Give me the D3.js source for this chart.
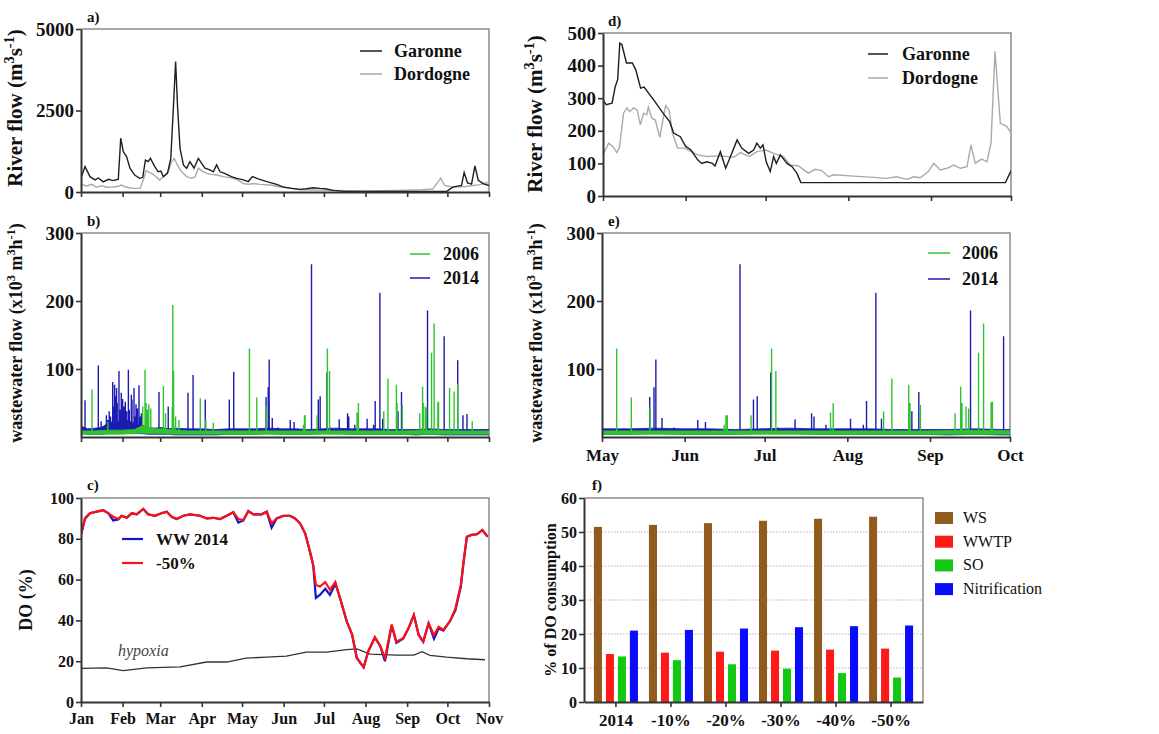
<!DOCTYPE html>
<html>
<head>
<meta charset="utf-8">
<script src="https://cdn.jsdelivr.net/npm/d3@7"></script>
<style>
  body { margin: 0; background: #fff; }
  svg text { font-family: "Liberation Serif", "Times New Roman", serif; }
</style>
</head>
<body>
<svg id="chart" width="1159" height="734"></svg>
<script>
// ---- data (days counted from Jan 1; panel d counted from May 1) ----

// a) river flow 2014, m3/s
const garonneA = [[0,430],[3,780],[6.7,470],[10.4,370],[12.9,430],[16.6,310],[20.4,390],[24,350],[27.8,390],[29.6,1650],[31.5,1240],[34,1080],[36.5,730],[40,520],[43.7,420],[46,450],[48,980],[50,930],[51.7,1030],[55,780],[57.5,620],[59.5,640],[61.4,470],[64.4,570],[66.9,1030],[68.8,2570],[70.5,4000],[72,2570],[73.8,1340],[76.3,830],[78.7,730],[81.2,930],[84.2,730],[87.4,1030],[89.9,880],[92.4,730],[96,680],[98.6,620],[101,830],[103.6,620],[107,570],[112,470],[116,420],[121,370],[124.7,320],[127.7,470],[132,400],[138.4,320],[145.8,235],[150.8,150],[157,110],[163,80],[168,100],[173,130],[178,110],[182,100],[188,50],[196,20],[212,20],[236,15],[262,15],[272.5,20],[277,150],[283.5,200],[285.5,600],[288,280],[291,240],[293.5,800],[296,360],[300,250],[304,200]];
const dordogneA = [[0,235],[4.2,185],[8,235],[11.7,145],[15.4,195],[19,145],[24,155],[27.8,175],[30,215],[34,145],[39,110],[44,110],[46,320],[48.6,655],[52.4,570],[56,470],[58.6,370],[62.6,520],[65,620],[67.5,930],[69.5,1030],[71.8,830],[75,620],[78.7,470],[82.5,420],[85,470],[87.4,730],[90,650],[93.6,570],[97.4,540],[101,520],[106,470],[111,440],[116,390],[121,260],[124.7,235],[128.5,260],[133.5,235],[141,215],[148,160],[154.5,130],[163,70],[188,50],[212,30],[236,50],[254,70],[262,90],[266,310],[268,430],[271,200],[277,150],[287,170],[297,225],[304,300]];

// b/e) wastewater flow, x10^3 m3/h : band [day, low, high] and spikes [day, peak]
const ww2014Band = [[0,5,16],[5,4,12],[10,4,13],[15,4,14],[20,5,20],[25,6,24],[30,6,22],[35,6,24],[40,5,20],[45,5,18],[50,4,14],[55,4,13],[60,4,14],[65,4,12],[70,3,13],[80,3,12],[90,3,12],[100,3,11],[110,4,12],[120,4,12],[130,4,12],[140,5,13],[150,4,12],[160,4,12],[170,4,11],[180,5,12],[190,5,13],[200,4,12],[210,4,12],[220,4,12],[230,4,11],[240,4,11],[250,3,11],[260,4,12],[270,3,11],[280,3,11],[290,3,11],[304,3,11]];
const ww2014Peaks = [[3,54],[12.9,105],[15,23],[18.9,32],[20,25],[21,38],[22,30],[23.6,81],[24.3,45],[25,77],[25.8,60],[26.5,72],[27,50],[28.3,97],[29,40],[30,65],[31,56],[32,45],[33,52],[34,38],[35.3,99],[36,40],[37.5,62],[38,55],[39.5,72],[40,30],[41,48],[42,42],[43.2,76],[44,30],[45,35],[50,40],[58.1,66],[65,45],[79.7,65],[83.5,91],[92.6,55],[110.5,55],[113.8,96],[137.9,59],[139.5,73],[140.2,114],[142.5,28],[147,14],[155.9,25],[158.8,22],[171.75,254],[176.8,55],[178.2,60],[183.3,95],[186,14],[192.4,26],[198.6,35],[199.5,30],[204,18],[213.2,27],[218,18],[219.2,53],[222.7,212],[224.8,27],[236.2,38],[238.8,66],[258.2,186],[270.6,148],[280.7,113],[284.6,32],[287.6,34]];
const ww2006Band = [[0,4,9],[10,4,9],[20,4,10],[30,4,10],[40,5,11],[45,6,16],[50,5,14],[55,5,12],[60,5,12],[70,4,10],[80,4,9],[90,4,9],[100,4,9],[120,4,9],[140,4,9],[160,4,9],[180,4,9],[200,4,9],[220,4,9],[240,4,9],[260,4,10],[280,4,9],[304,4,9]];
const ww2006Peaks = [[8.2,70],[20,22],[46,45],[47.7,99],[48.5,50],[49.5,40],[50.5,48],[52,42],[61.4,75],[63,35],[68,45],[68.4,194],[69,97],[70.5,30],[73,25],[88.9,57],[93,25],[98.6,21],[125.5,130],[131,58],[138,45],[165.8,18],[166.5,32],[167,32],[175.9,32],[183.6,130],[185.2,97],[205.7,36],[206.7,50],[225.6,38],[228.7,86],[235,77],[235.5,50],[239.4,47],[252.4,35],[254.5,74],[255,50],[256.5,45],[257.5,42],[261.2,124],[263.1,167],[265.9,51],[266.4,52],[274.6,72],[278,67],[280.7,78],[291.5,23]];

// c) dissolved oxygen, %
const doWW2014 = [[0,82],[3,90],[6.7,92.5],[11.7,93.3],[16.6,94],[20.4,92.5],[24,89],[27.8,89.5],[30.3,91.3],[34,90.3],[37.8,92.5],[41.5,92],[46.4,94.6],[50,92],[55,91.3],[60,92.5],[63.8,93.3],[67.6,90.8],[71.3,89.7],[76.3,91.3],[81.2,92],[88.7,91.3],[93.6,90],[98.6,90.3],[103.6,89.7],[108.5,91.3],[113.5,93],[117.2,88],[121,89],[124.7,93.6],[128.5,92],[134.6,92],[138.4,93.3],[142,85.5],[145.8,90],[150.8,91.3],[155.7,91.3],[159.5,90],[163.2,87.6],[167,82.7],[170.6,73.7],[173,67.2],[175,51],[178,52.5],[182,55.5],[185.5,52.5],[189.5,58],[193,51],[198,39.5],[202,33],[205.5,21.6],[210.6,17],[214,24.8],[219,31.7],[223,27.3],[226.5,20],[231.5,37.5],[235,29],[240,31],[244,36.1],[248,42.6],[251.6,32.8],[255,29.6],[259,38.6],[263,31],[266.5,36],[270,35],[275,39.7],[279,45],[283,56.5],[285,68],[287.5,81],[291,81.9],[295,82.2],[299,84.3],[303,81]];
const doMinus50 = [[0,82],[3,90],[6.7,92.5],[11.7,93.3],[16.6,94],[20.4,92.5],[24,90.8],[27.8,89.7],[30.3,91.3],[34,90.3],[37.8,92.5],[41.5,92],[46.4,94.6],[50,92],[55,91.3],[60,92.5],[63.8,93.3],[67.6,90.8],[71.3,89.7],[76.3,91.3],[81.2,92],[88.7,91.3],[93.6,90],[98.6,90.3],[103.6,89.7],[108.5,91.3],[113.5,93],[117.2,89.7],[121,89.2],[124.7,93.6],[128.5,92],[134.6,92],[138.4,93.3],[142,87.6],[145.8,90],[150.8,91.3],[155.7,91.3],[159.5,90],[163.2,87.6],[167,82.7],[170.6,73.7],[173,67.2],[175,57.4],[178,56.6],[182,58.8],[185.5,55],[189.5,58.8],[193,51],[198,39.5],[202,33],[205.5,21.6],[210.6,17],[214,24.8],[219,31.7],[223,27.3],[226.5,21.6],[231.5,38],[235,29.6],[240,31.2],[244,36.1],[248,42.6],[251.6,32.8],[255,29.6],[259,38.6],[263,32.8],[266.5,36.9],[270,35.3],[275,39.7],[279,45.9],[283,57.4],[285,68.8],[287.5,81],[291,81.9],[295,82.2],[299,84.3],[303,81]];
const hypoxia = [[0,16.5],[19,16.7],[31.5,15.4],[49,16.7],[73.8,17.2],[93.6,19.6],[108.5,19.6],[123,21.5],[138.4,22],[153,22.5],[168,24.4],[183,24.4],[198,25.7],[205.5,26],[215.4,23.5],[235,23],[248,23],[254,24.7],[260,22.9],[272.5,22],[287.5,21.2],[301,20.7]];

// d) river flow May-Oct, m3/s (days from May 1)
const garonneD = [[0,295],[1.2,280],[3.4,285],[4.6,336],[5.5,357],[6.3,469],[7.1,464],[8.8,408],[11,408],[12.3,387],[14.1,331],[15.4,334],[19,295],[23,249],[25,228],[26.5,193],[29,182],[31,152],[33,141],[35.5,111],[37,100],[39,105],[41,100],[42,92],[44,136],[46,85],[47.8,121],[50.3,172],[52,147],[54.6,131],[56.5,141],[57.7,162],[59,147],[60,157],[61.2,105],[62.7,75],[64,121],[65,100],[66.5,126],[69,100],[70.9,90],[72.7,70],[74.2,41],[150.9,41],[153,77]];
const dordogneD = [[0,126],[2.1,162],[3.7,152],[5.2,133],[6.2,150],[7.7,254],[9,270],[10,259],[11.5,270],[12.8,264],[14,218],[15.2,254],[16.4,249],[17,272],[18.3,239],[19.6,233],[21.3,180],[22.6,239],[23.5,277],[24.8,264],[26,193],[28,147],[30.5,147],[33,136],[35.5,126],[39,121],[44,123],[49,119],[51.5,133],[55,121],[57.7,136],[61,141],[64,131],[67.7,121],[70.2,95],[73.3,92],[77,70],[79.6,82],[82,78],[84.6,59],[86.5,65],[94,61],[101.5,57],[106.5,54],[110,59],[114,51],[116.5,59],[119,56],[122,75],[124,100],[126.5,80],[129,85],[131.5,95],[134,85],[136.5,90],[138,157],[139.6,100],[142,113],[144,105],[145.5,162],[147,444],[149,223],[151.5,213],[153,193]];

// f) share of DO consumption, %
const scenarios = ['2014', '-10%', '-20%', '-30%', '-40%', '-50%'];
const processes = ['WS', 'WWTP', 'SO', 'Nitrification'];
const wsShare = [51.5, 52.1, 52.6, 53.3, 53.9, 54.5];
const wwtpShare = [14.1, 14.5, 14.8, 15.1, 15.4, 15.7];
const soShare = [13.4, 12.3, 11.1, 9.8, 8.5, 7.2];
const nitriShare = [21.0, 21.2, 21.6, 22.0, 22.3, 22.5];

// ---- helpers ----
const svg = d3.select('#chart');
const DAY = 864e5;
const jan1 = new Date(2014, 0, 1);
const may1 = new Date(2014, 4, 1);
const fromJan = d => new Date(jan1.getTime() + d * DAY);
const fromMay = d => new Date(may1.getTime() + d * DAY);
const AXIS = '#333';
const intFmt = d3.format('d');

function panel(box, id) {
  const g = svg.append('g').attr('transform', `translate(${box.left},${box.top})`);
  const w = box.right - box.left, h = box.bottom - box.top;
  svg.append('clipPath').attr('id', id).append('rect')
    .attr('x', box.left).attr('y', box.top).attr('width', w).attr('height', h);
  // grey frame top + right
  g.append('path').attr('d', `M0,0H${w}V${h}`)
    .attr('fill', 'none').attr('stroke', '#8c8c8c').attr('stroke-width', 1.5);
  return { g, w, h, clip: `url(#${id})` };
}

function styleAxis(sel, fs) {
  sel.attr('font-family', null).attr('font-size', null);
  sel.select('.domain').attr('stroke', AXIS).attr('stroke-width', 2);
  sel.selectAll('.tick line').attr('stroke', AXIS).attr('stroke-width', 1.6);
  sel.selectAll('.tick text')
    .attr('font-size', fs).attr('font-weight', 'bold').attr('fill', '#111')
    .style('font-family', '"Liberation Serif", serif');
}

function yTitle(x, y, parts, fs) {
  const t = svg.append('text')
    .attr('transform', `translate(${x},${y}) rotate(-90)`)
    .attr('text-anchor', 'middle').attr('font-size', fs).attr('font-weight', 'bold').attr('fill', '#111');
  parts.forEach(p => {
    const s = t.append('tspan').text(p[0]);
    if (p[1] === 'sup') s.attr('font-size', fs * 0.68).attr('dy', -fs * 0.4);
    if (p[1] === 'back') s.attr('dy', fs * 0.4);
  });
}

function tag(x, y, label) {
  svg.append('text').attr('x', x).attr('y', y)
    .attr('font-size', 15).attr('font-weight', 'bold').attr('fill', '#111').text(label);
}

function lineLegend(x, y, items, fs, gap) {
  items.forEach((it, i) => {
    svg.append('line')
      .attr('x1', x).attr('x2', x + it.len).attr('y1', y + i * gap).attr('y2', y + i * gap)
      .attr('stroke', it.color).attr('stroke-width', it.width);
    svg.append('text')
      .attr('x', x + it.len + it.pad).attr('y', y + i * gap + fs * 0.35)
      .attr('font-size', fs).attr('font-weight', 'bold').attr('fill', '#111').text(it.name);
  });
}

// ---- panel a ----
const pa = panel({ left: 81, right: 489, top: 29, bottom: 192 }, 'clipA');
const xA = d3.scaleTime().domain([jan1, new Date(2014, 10, 1)]).range([81, 489]);
const yA = d3.scaleLinear().domain([0, 5000]).range([192, 29]);
const lineA = d3.line().x(d => xA(fromJan(d[0]))).y(d => yA(d[1]));
svg.append('path').datum(dordogneA).attr('d', lineA).attr('fill', 'none')
  .attr('stroke', '#aaaaaa').attr('stroke-width', 1.4).attr('clip-path', pa.clip);
svg.append('path').datum(garonneA).attr('d', lineA).attr('fill', 'none')
  .attr('stroke', '#1e1e1e').attr('stroke-width', 1.4).attr('clip-path', pa.clip);
svg.append('g').attr('transform', 'translate(0,192)')
  .call(d3.axisBottom(xA).ticks(d3.timeMonth.every(1)).tickFormat('').tickSize(5).tickSizeOuter(0))
  .call(s => styleAxis(s, 16));
svg.append('g').attr('transform', 'translate(81,0)')
  .call(d3.axisLeft(yA).tickValues([0, 2500, 5000]).tickFormat(intFmt).tickSize(5).tickPadding(2).tickSizeOuter(0))
  .call(s => styleAxis(s, 19));
yTitle(22, 108, [['River flow (m'], ['3', 'sup'], ['s', 'back'], ['-1', 'sup'], [')', 'back']], 21);
tag(87, 22, 'a)');
lineLegend(360, 51, [
  { name: 'Garonne', color: '#1e1e1e', width: 1.5, len: 22, pad: 12 },
  { name: 'Dordogne', color: '#aaaaaa', width: 1.5, len: 22, pad: 12 }
], 18, 23);

// ---- wastewater drawing ----
function drawWW(x, y, band, peaks, color, clip, toDate) {
  const area = d3.area().x(d => x(toDate(d[0]))).y0(d => y(d[1])).y1(d => y(d[2]));
  svg.append('path').datum(band).attr('d', area).attr('fill', color)
    .attr('stroke', color).attr('stroke-width', 0.8).attr('clip-path', clip);
  svg.append('path')
    .attr('d', peaks.map(p => `M${x(toDate(p[0]))},${y(6)}V${y(p[1])}`).join(''))
    .attr('fill', 'none').attr('stroke', color).attr('stroke-width', 1.4).attr('clip-path', clip);
}

const blueWW = '#1c1cb0';
const greenWW = '#2fc42f';

// ---- panel b ----
const pb = panel({ left: 81, right: 489, top: 233, bottom: 437 }, 'clipB');
const xB = d3.scaleTime().domain([jan1, new Date(2014, 10, 1)]).range([81, 489]);
const yB = d3.scaleLinear().domain([0, 300]).range([437, 233]);
drawWW(xB, yB, ww2014Band, ww2014Peaks, blueWW, pb.clip, fromJan);
drawWW(xB, yB, ww2006Band, ww2006Peaks, greenWW, pb.clip, fromJan);
svg.append('g').attr('transform', 'translate(0,437)')
  .call(d3.axisBottom(xB).ticks(d3.timeMonth.every(1)).tickFormat('').tickSize(5).tickSizeOuter(0))
  .call(s => styleAxis(s, 16));
svg.append('g').attr('transform', 'translate(81,0)')
  .call(d3.axisLeft(yB).tickValues([100, 200, 300]).tickSize(5).tickPadding(2).tickSizeOuter(0))
  .call(s => styleAxis(s, 19));
yTitle(22, 333, [['wastewater flow (x10'], ['3', 'sup'], [' m', 'back'], ['3', 'sup'], ['h', 'back'], ['-1', 'sup'], [')', 'back']], 18);
tag(87, 226, 'b)');
lineLegend(410, 254, [
  { name: '2006', color: greenWW, width: 1.5, len: 20, pad: 13 },
  { name: '2014', color: blueWW, width: 1.5, len: 20, pad: 13 }
], 18, 24);

// ---- panel c ----
const pc = panel({ left: 81, right: 489, top: 498, bottom: 702 }, 'clipC');
const xC = d3.scaleTime().domain([jan1, new Date(2014, 10, 1)]).range([81, 489]);
const yC = d3.scaleLinear().domain([0, 100]).range([702, 498]);
const lineC = d3.line().x(d => xC(fromJan(d[0]))).y(d => yC(d[1]));
svg.append('path').datum(hypoxia).attr('d', lineC).attr('fill', 'none')
  .attr('stroke', '#333').attr('stroke-width', 1.3).attr('clip-path', pc.clip);
svg.append('path').datum(doWW2014).attr('d', lineC).attr('fill', 'none')
  .attr('stroke', '#1515c8').attr('stroke-width', 2.2).attr('clip-path', pc.clip);
svg.append('path').datum(doMinus50).attr('d', lineC).attr('fill', 'none')
  .attr('stroke', '#ff1010').attr('stroke-width', 2.2).attr('clip-path', pc.clip);
svg.append('g').attr('transform', 'translate(0,702)')
  .call(d3.axisBottom(xC).ticks(d3.timeMonth.every(1)).tickFormat(d3.timeFormat('%b')).tickSize(5).tickPadding(6).tickSizeOuter(0))
  .call(s => styleAxis(s, 16));
svg.append('g').attr('transform', 'translate(81,0)')
  .call(d3.axisLeft(yC).tickValues([0, 20, 40, 60, 80, 100]).tickSize(5).tickPadding(2).tickSizeOuter(0))
  .call(s => styleAxis(s, 16));
yTitle(32, 600, [['DO (%)']], 18);
tag(87, 490, 'c)');
lineLegend(122, 539, [
  { name: 'WW 2014', color: '#1515c8', width: 2.2, len: 21, pad: 13 },
  { name: '-50%', color: '#ff1010', width: 2.2, len: 21, pad: 13 }
], 17, 24);
svg.append('text').attr('x', 118).attr('y', 656)
  .attr('font-size', 16).attr('font-style', 'italic').attr('fill', '#444').text('hypoxia');

// ---- panel d ----
const pd = panel({ left: 603, right: 1011, top: 33, bottom: 196 }, 'clipD');
const xD = d3.scaleTime().domain([may1, new Date(2014, 9, 1)]).range([603, 1011]);
const yD = d3.scaleLinear().domain([0, 500]).range([196, 33]);
const lineD = d3.line().x(d => xD(fromMay(d[0]))).y(d => yD(d[1]));
svg.append('path').datum(dordogneD).attr('d', lineD).attr('fill', 'none')
  .attr('stroke', '#aaaaaa').attr('stroke-width', 1.4).attr('clip-path', pd.clip);
svg.append('path').datum(garonneD).attr('d', lineD).attr('fill', 'none')
  .attr('stroke', '#1e1e1e').attr('stroke-width', 1.4).attr('clip-path', pd.clip);
svg.append('g').attr('transform', 'translate(0,196)')
  .call(d3.axisBottom(xD).ticks(d3.timeMonth.every(1)).tickFormat('').tickSize(5).tickSizeOuter(0))
  .call(s => styleAxis(s, 16));
svg.append('g').attr('transform', 'translate(603,0)')
  .call(d3.axisLeft(yD).tickValues([0, 100, 200, 300, 400, 500]).tickSize(5).tickPadding(2).tickSizeOuter(0))
  .call(s => styleAxis(s, 19));
yTitle(542, 114, [['River flow (m'], ['3', 'sup'], ['s', 'back'], ['-1', 'sup'], [')', 'back']], 21);
tag(608, 26, 'd)');
lineLegend(868, 54, [
  { name: 'Garonne', color: '#1e1e1e', width: 1.5, len: 20, pad: 14 },
  { name: 'Dordogne', color: '#aaaaaa', width: 1.5, len: 20, pad: 14 }
], 18, 24);

// ---- panel e ----
const pe = panel({ left: 602, right: 1010, top: 233, bottom: 437 }, 'clipE');
const xE = d3.scaleTime().domain([may1, new Date(2014, 9, 1)]).range([602, 1010]);
const yE = d3.scaleLinear().domain([0, 300]).range([437, 233]);
drawWW(xE, yE, ww2014Band, ww2014Peaks, blueWW, pe.clip, fromJan);
drawWW(xE, yE, ww2006Band, ww2006Peaks, greenWW, pe.clip, fromJan);
svg.append('g').attr('transform', 'translate(0,437)')
  .call(d3.axisBottom(xE).ticks(d3.timeMonth.every(1)).tickFormat(d3.timeFormat('%b')).tickSize(5).tickPadding(7).tickSizeOuter(0))
  .call(s => styleAxis(s, 17));
svg.append('g').attr('transform', 'translate(602,0)')
  .call(d3.axisLeft(yE).tickValues([100, 200, 300]).tickSize(5).tickPadding(2).tickSizeOuter(0))
  .call(s => styleAxis(s, 19));
yTitle(542, 333, [['wastewater flow (x10'], ['3', 'sup'], [' m', 'back'], ['3', 'sup'], ['h', 'back'], ['-1', 'sup'], [')', 'back']], 18);
tag(608, 226, 'e)');
lineLegend(928, 253, [
  { name: '2006', color: greenWW, width: 1.5, len: 22, pad: 12 },
  { name: '2014', color: blueWW, width: 1.5, len: 22, pad: 12 }
], 18, 26);

// ---- panel f ----
const pf = panel({ left: 584, right: 923, top: 498, bottom: 702 }, 'clipF');
const xF = d3.scaleBand().domain(scenarios).range([584, 923]).paddingInner(0.2).paddingOuter(0.18);
const xF1 = d3.scaleBand().domain(processes).range([0, xF.bandwidth()]).paddingInner(0.33);
const yF = d3.scaleLinear().domain([0, 60]).range([702, 498]);
const colorF = d3.scaleOrdinal().domain(processes).range(['#8f5c1e', '#ff1a1a', '#12c812', '#0a0aff']);
const shares = { WS: wsShare, WWTP: wwtpShare, SO: soShare, Nitrification: nitriShare };

svg.append('g').selectAll('line').data([10, 20, 30, 40, 50]).join('line')
  .attr('x1', 584).attr('x2', 923).attr('y1', d => yF(d)).attr('y2', d => yF(d))
  .attr('stroke', '#b5b5b5').attr('stroke-width', 1).attr('stroke-dasharray', '1.5,1.5');

const groups = svg.append('g').selectAll('g').data(scenarios).join('g')
  .attr('transform', d => `translate(${xF(d)},0)`);
groups.selectAll('rect')
  .data((s, i) => processes.map(p => ({ p, v: shares[p][i] })))
  .join('rect')
  .attr('x', d => xF1(d.p)).attr('width', xF1.bandwidth())
  .attr('y', d => yF(d.v)).attr('height', d => yF(0) - yF(d.v))
  .attr('fill', d => colorF(d.p));

svg.append('g').attr('transform', 'translate(0,702)')
  .call(d3.axisBottom(xF).tickSize(5).tickPadding(7).tickSizeOuter(0))
  .call(s => styleAxis(s, 17));
svg.append('g').attr('transform', 'translate(584,0)')
  .call(d3.axisLeft(yF).tickValues([0, 10, 20, 30, 40, 50, 60]).tickSize(5).tickPadding(2).tickSizeOuter(0))
  .call(s => styleAxis(s, 16));
yTitle(556, 600, [['% of DO consumption']], 16);
tag(592, 490, 'f)');

processes.forEach((p, i) => {
  svg.append('rect').attr('x', 935).attr('y', 512 + i * 23.7).attr('width', 18).attr('height', 12)
    .attr('fill', colorF(p));
  svg.append('text').attr('x', 963).attr('y', 523 + i * 23.7)
    .attr('font-size', 16).attr('fill', '#111').text(p);
});
</script>
</body>
</html>
